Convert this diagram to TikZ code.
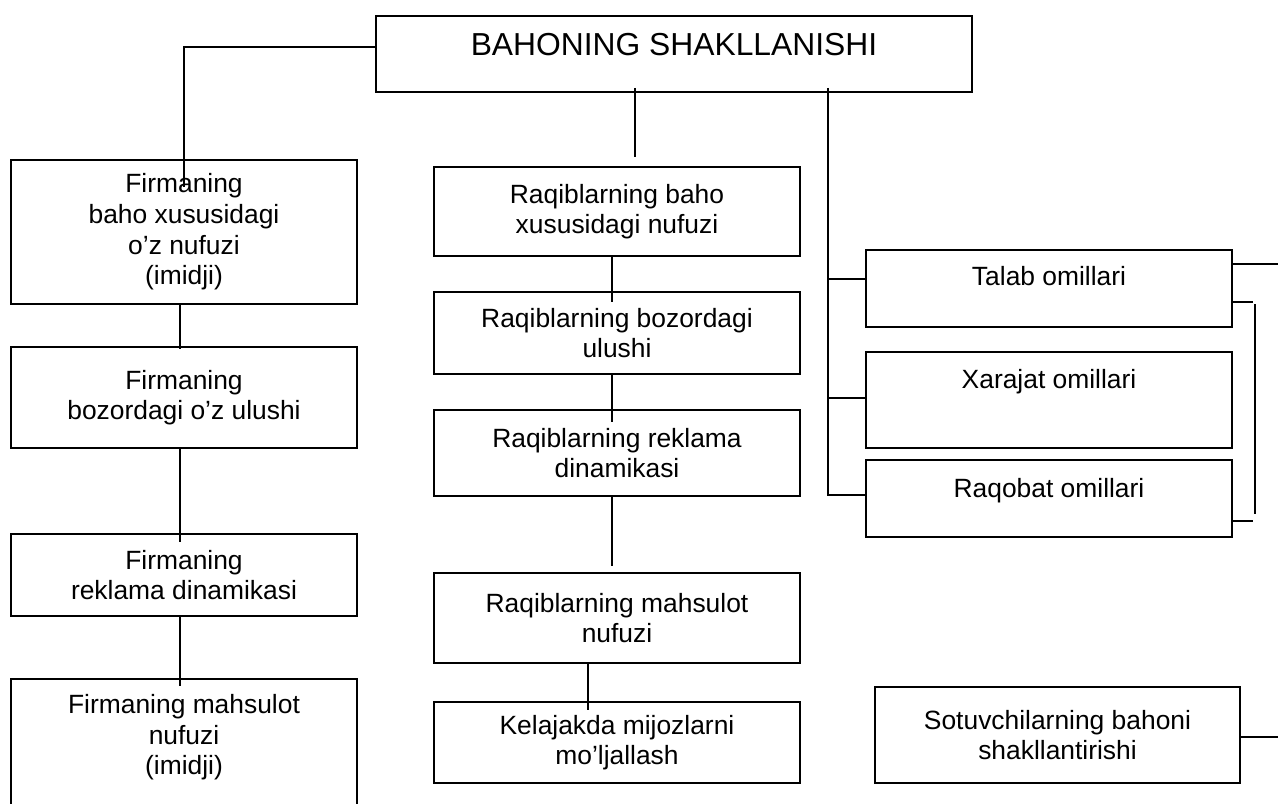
\documentclass[tikz,border=0pt]{standalone}
\usepackage{fontspec}
\setmainfont{Liberation Sans}
\usetikzlibrary{positioning}

\begin{document}
\begin{tikzpicture}[x=0.5pt,y=-0.5pt,thin]
\tikzstyle{block}=[draw,line width=0.9pt,shape=rectangle,text=black,align=center,inner sep=3pt,font=\fontsize{13.2}{15.3}\selectfont]
\tikzstyle{wire}=[draw,line width=0.7pt]

\useasboundingbox (0,0) rectangle (1278,803);

\node[block,minimum width=298pt,minimum height=38pt,text height=10pt,text depth=8.6pt,font=\fontsize{15.9}{18}\selectfont] (T) at (674,54) {BAHONING SHAKLLANISHI};

% firm column
\node[block,minimum width=173pt,minimum height=72pt]   (L1) at (184,232) {Firmaning\\baho xususidagi\\o’z nufuzi\\(imidji)};
\node[block,minimum width=173pt,minimum height=50.5pt] (L2) [below of=L1,node distance=82.75pt] {Firmaning\\bozordagi o’z ulushi};
\node[block,minimum width=173pt,minimum height=41pt]   (L3) [below of=L2,node distance=88.75pt] {Firmaning\\reklama dinamikasi};
\node[block,minimum width=173pt,minimum height=71pt]   (L4) [below of=L3,node distance=87.5pt] {Firmaning mahsulot\\nufuzi\\(imidji)\\\mbox{}};

% rivals column
\node[block,minimum width=183pt,minimum height=44.5pt] (M1) at (617,211.5) {Raqiblarning baho\\xususidagi nufuzi};
\node[block,minimum width=183pt,minimum height=41pt]   (M2) [below of=M1,node distance=60.75pt] {Raqiblarning bozordagi\\ulushi};
\node[block,minimum width=183pt,minimum height=43pt]   (M3) [below of=M2,node distance=60pt] {Raqiblarning reklama\\dinamikasi};
\node[block,minimum width=183pt,minimum height=45pt]   (M4) [below of=M3,node distance=82.5pt] {Raqiblarning mahsulot\\nufuzi};
\node[block,minimum width=183pt,minimum height=40.5pt] (M5) [below of=M4,node distance=62.25pt] {Kelajakda mijozlarni\\mo’ljallash};

% factors
\node[block,minimum width=183pt,minimum height=38.5pt,text height=8pt,text depth=10.6pt] (Ta) at (1049,288.5) {Talab omillari};
\node[block,minimum width=183pt,minimum height=48pt,text height=8pt,text depth=19.6pt]   (Xa) [below of=Ta,node distance=55.75pt] {Xarajat omillari};
\node[block,minimum width=183pt,minimum height=38.5pt,text height=8pt,text depth=9.1pt]  (Rq) [below of=Xa,node distance=49.25pt] {Raqobat omillari};
\node[block,minimum width=182.5pt,minimum height=48pt] (S) at (1057.5,735) {Sotuvchilarning bahoni\\shakllantirishi};

\coordinate (trunk) at ([xshift=77pt,yshift=2.5pt]T.south);
\coordinate (rim)   at (1278,0);
\coordinate (taIn)  at ([yshift=4.75pt]Ta.west);
\coordinate (xaIn)  at ([yshift=1pt]Xa.west);
\coordinate (taOut) at ([yshift=12.25pt]Ta.east);
\coordinate (sOut)  at ([yshift=-1pt]S.east);
\coordinate (bkTop) at ([xshift=11pt,yshift=-7.75pt]Ta.east);
\coordinate (bkBot) at ([xshift=11pt,yshift=-7.75pt]Rq.east);

\draw[wire] ([yshift=3.5pt]T.west) -| ([yshift=-14pt]L1.north);
\draw[wire] (trunk) |- ([yshift=1.75pt]Rq.west);
\draw[wire] (taIn -| trunk) -- (taIn);
\draw[wire] (xaIn -| trunk) -- (xaIn);
\draw[wire] (taOut) -- (taOut -| rim);
\draw[wire] (sOut) -- (sOut -| rim);
\draw[wire] (bkTop) -- (bkBot);

\path[wire]
([xshift=-19.5pt,yshift=2.5pt]T.south) edge ([xshift=9pt,yshift=4.5pt]M1.north)
([xshift=-2pt]L1.south) edge ([xshift=-2pt,yshift=-1.5pt]L2.north)
([xshift=-2pt]L2.south) edge ([xshift=-2pt,yshift=-4.5pt]L3.north)
([xshift=-2pt]L3.south) edge ([xshift=-2pt,yshift=-4pt]L4.north)
([xshift=-2.5pt]M1.south) edge ([xshift=-2.5pt,yshift=-5.5pt]M2.north)
([xshift=-2.5pt]M2.south) edge ([xshift=-2.5pt,yshift=-6.5pt]M3.north)
([xshift=-2.5pt]M3.south) edge ([xshift=-2.5pt,yshift=3pt]M4.north)
([xshift=-14.5pt]M4.south) edge ([xshift=-14.5pt,yshift=-4.5pt]M5.north)
([yshift=-6.75pt]Ta.east) edge ([xshift=10pt,yshift=-6.75pt]Ta.east)
([yshift=-11.25pt]Rq.east) edge ([xshift=10pt,yshift=-11.25pt]Rq.east)
;
\end{tikzpicture}
\end{document}
